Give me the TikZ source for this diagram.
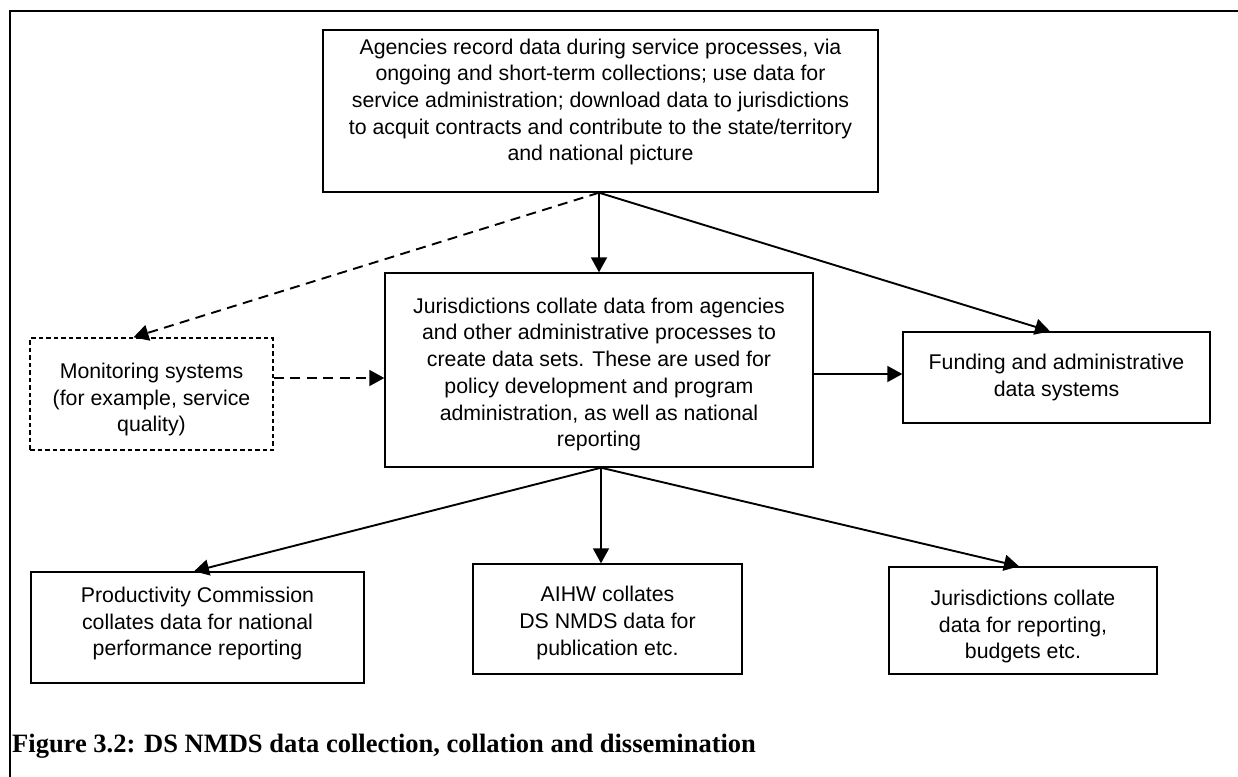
\documentclass[tikz,border=0pt]{standalone}
\usepackage{fontspec}
\setmainfont{Liberation Sans}
\newfontfamily\capfont{Liberation Serif}
\usetikzlibrary{arrows.meta,calc}
\tikzset{
  boxnode/.style={draw=black, line width=1.4pt, align=center, inner sep=0pt,
    font=\fontsize{21.3}{26.7}\selectfont},
  dashbox/.style={boxnode, dash pattern=on 4.5pt off 3pt},
  conn/.style={line width=1.9pt, -{Triangle[length=15pt,width=16pt]}},
  dconn/.style={conn, dash pattern=on 10pt off 6.5pt},
}
\begin{document}
\begin{tikzpicture}[x=1pt,y=-1pt]
\useasboundingbox (0,0) rectangle (1238,776);
% frame
\draw[line width=2.6pt] (10,780) -- (10,11) -- (1242,11);
% boxes
\node[boxnode, minimum width=555, minimum height=162, text depth=22.5pt] (top) at (600.5,111)
  {Agencies record data during service processes, via\\ongoing and short-term collections; use data for\\service administration; download data to jurisdictions\\to acquit contracts and contribute to the state/territory\\and national picture};
\node[boxnode, minimum width=428, minimum height=194, text height=158pt] (mid) at (599,370)
  {Jurisdictions collate data from agencies\\and other administrative processes to\\create data sets. These are used for\\policy development and program\\administration, as well as national\\reporting};
\node[dashbox, minimum width=243, minimum height=112, text height=80pt] (mon) at (151.5,394)
  {Monitoring systems\\(for example, service\\quality)};
\node[boxnode, minimum width=307, minimum height=91] (fund) at (1056.5,377.5)
  {Funding and administrative\\data systems};
\node[boxnode, minimum width=333, minimum height=111, text depth=12pt] (pc) at (197.5,627.5)
  {Productivity Commission\\collates data for national\\performance reporting};
\node[boxnode, minimum width=269, minimum height=110, text height=77pt] (aihw) at (607.5,619)
  {AIHW collates\\DS NMDS data for\\publication etc.};
\node[boxnode, minimum width=268, minimum height=107, text height=81pt] (jur) at (1023,620.5)
  {Jurisdictions collate\\data for reporting,\\budgets etc.};
% connectors
\coordinate (ts) at (top.south -| mid.north);
\draw[conn] (ts) -- (mid.north);
\draw[dconn] (ts) -- ([xshift=-18pt]mon.north);
\draw[conn] (ts) -- ([xshift=-6.5pt]fund.north);
\coordinate (ms) at ([yshift=16pt]mon.east);
\draw[dconn] (ms) -- (mid.west |- ms);
\coordinate (fw) at ([yshift=3.5pt]fund.west);
\draw[conn] (mid.east |- fw) -- (fw);
\coordinate (bs) at ([xshift=2pt]mid.south);
\draw[conn] (bs) -- ([xshift=-3.5pt]pc.north);
\draw[conn] (bs) -- (aihw.north -| bs);
\draw[conn] (bs) -- ([xshift=-4pt]jur.north);
% caption
\node[anchor=base west, inner sep=0pt, font=\capfont\bfseries\fontsize{26.5}{30}\selectfont] (cap) at (12,752)
  {Figure 3.2: DS NMDS data collection, collation and dissemination};
\end{tikzpicture}
\end{document}
